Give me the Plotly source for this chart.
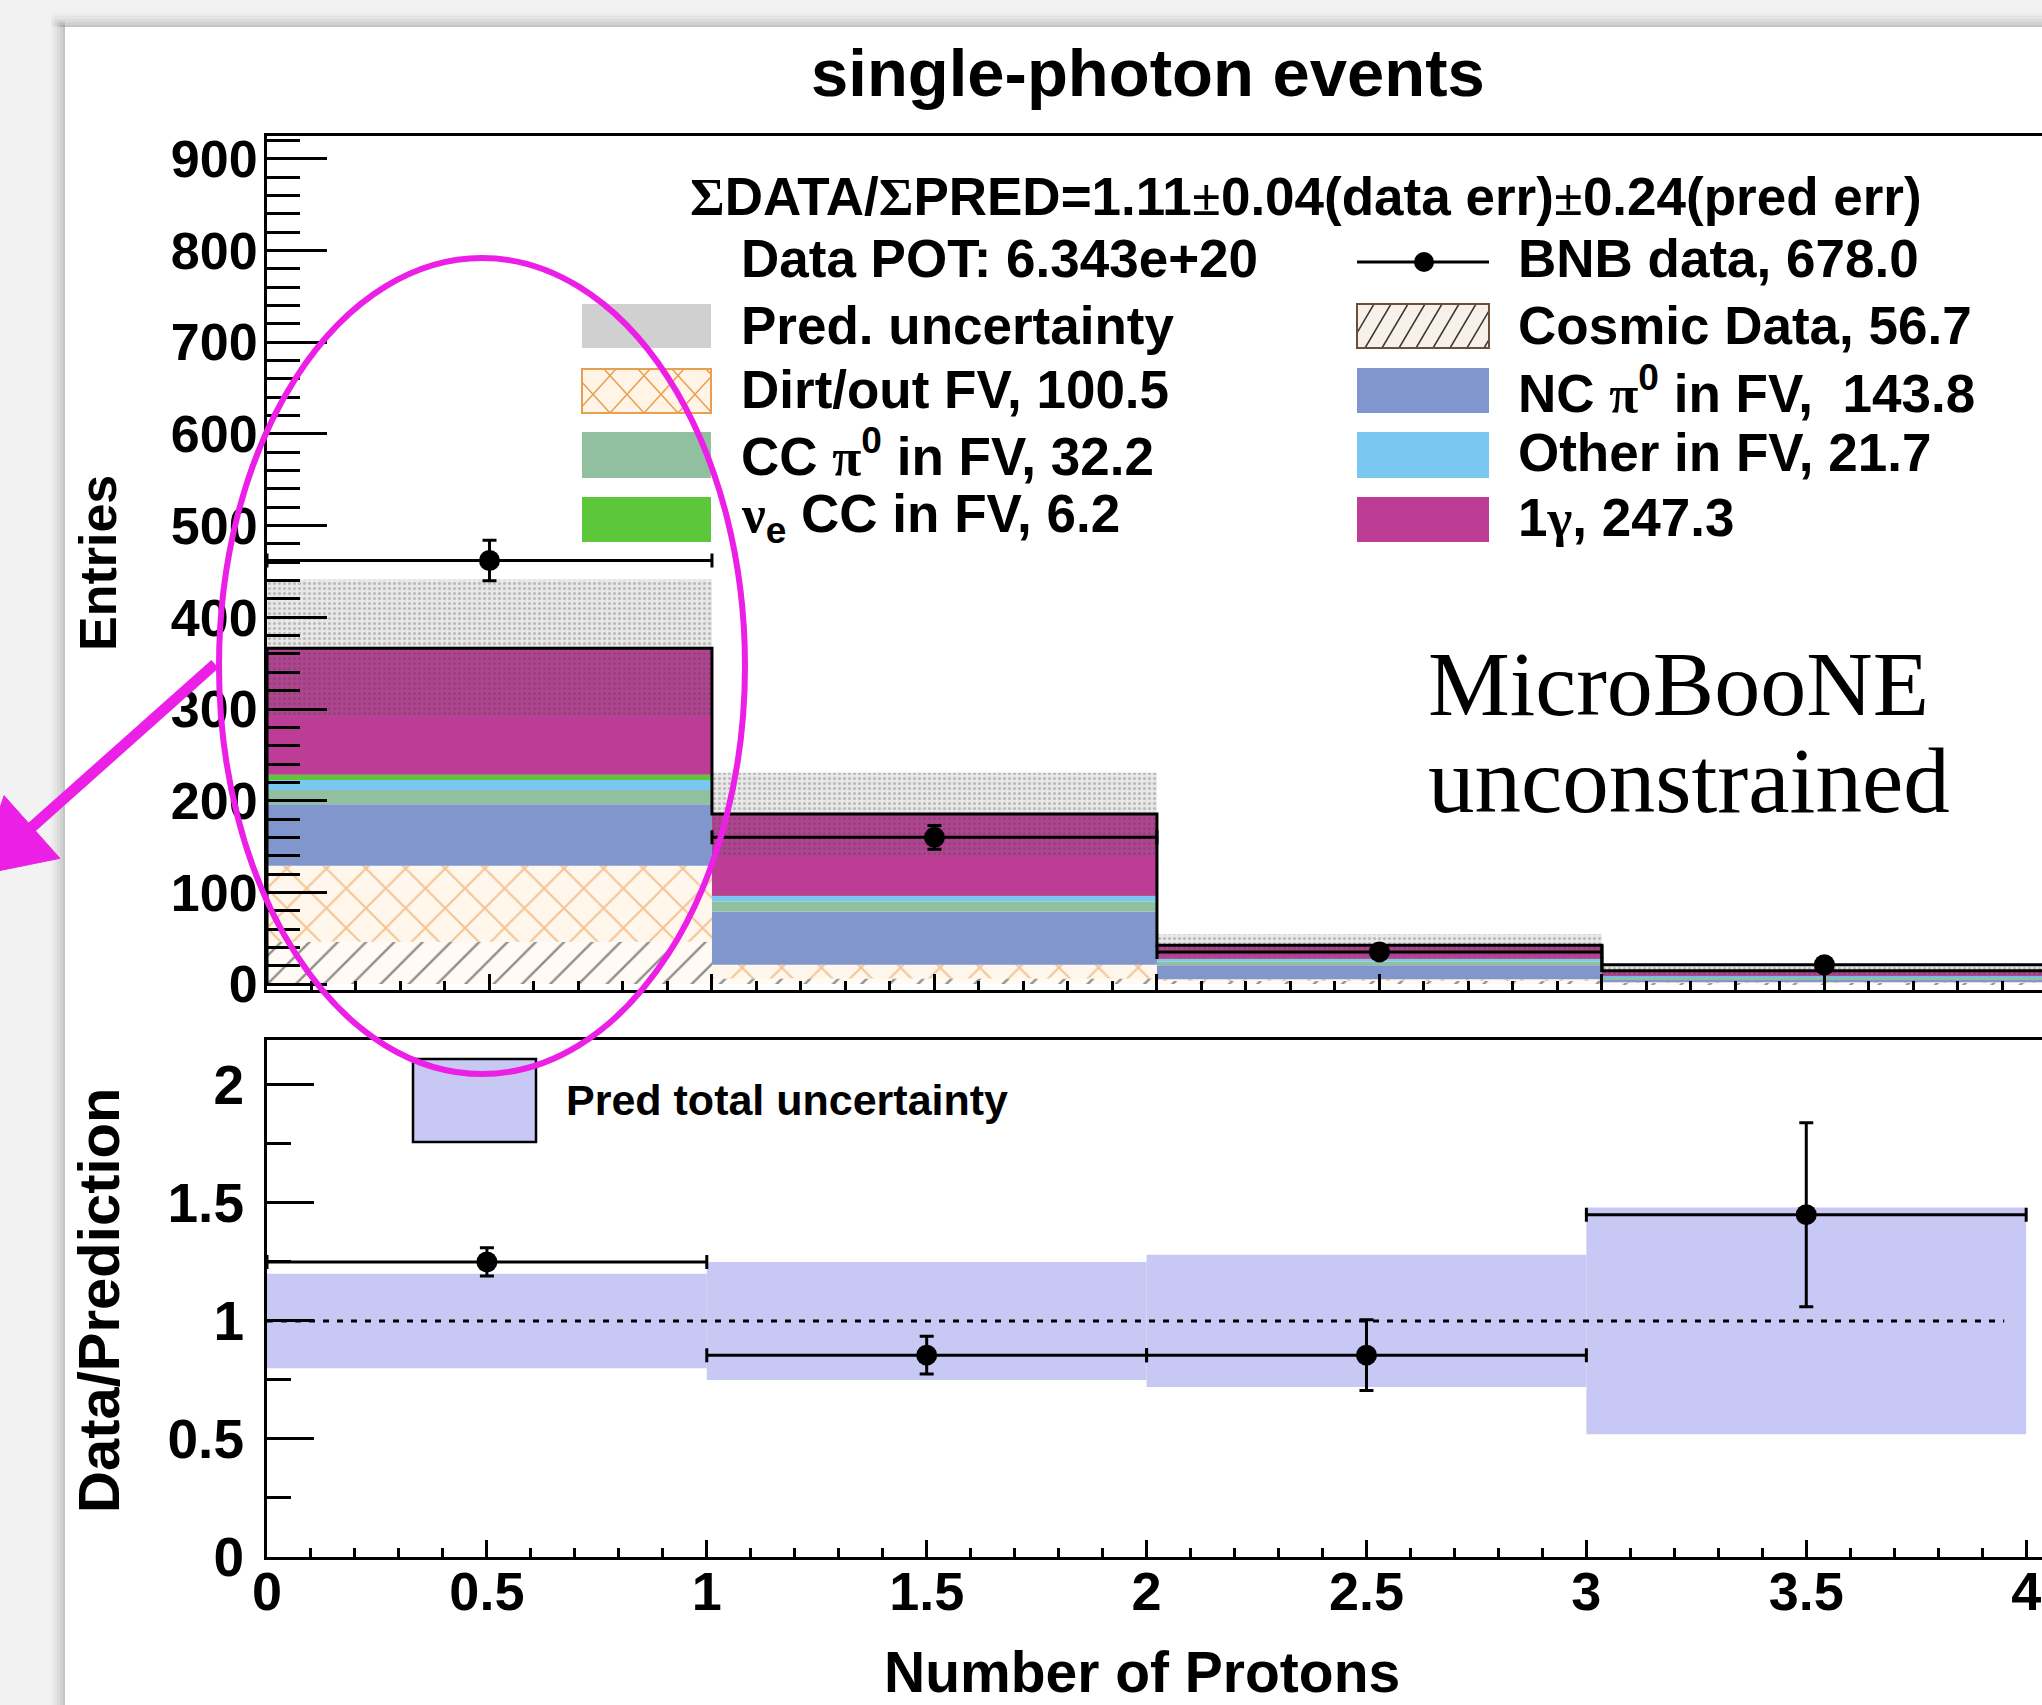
import numpy as np
import plotly.graph_objects as go

W, H = 2042, 1705

# ---------------- data ----------------
bin_lo = [0, 1, 2, 3]
bin_hi = [1, 2, 3, 4]

# stacked prediction components, bottom -> top
cosmic = [46.0, 6.0, 3.5, 1.2]
dirt = [83.0, 15.0, 1.8, 0.7]
nc_pi0 = [67.0, 58.0, 15.3, 3.5]
cc_pi0 = [15.6, 10.9, 4.0, 1.7]
other_fv = [10.9, 6.2, 3.0, 1.6]
nue_cc = [5.8, 0.3, 0.1, 0.0]
one_gamma = [138.0, 89.0, 14.5, 5.8]
pred_err = [75.0, 45.0, 12.0, 7.0]

bnb_data = [462, 160, 35, 21]
bnb_err = [22.0, 13.0, 6.0, 4.6]

ratio = [1.25, 0.855, 0.855, 1.45]
ratio_err = [0.06, 0.08, 0.15, 0.39]
ratio_band = [0.20, 0.25, 0.28, 0.48]

SERIF = "<span style=\"font-family:Liberation Serif\">{}</span>"
legend_left = ["Data POT: 6.343e+20", "Pred. uncertainty", "Dirt/out FV, 100.5",
               "CC " + SERIF.format("π") + "<sup>0</sup> in FV, 32.2",
               SERIF.format("ν") + "<sub>e</sub> CC in FV, 6.2"]
legend_right = ["BNB data, 678.0", "Cosmic Data, 56.7",
                "NC " + SERIF.format("π") + "<sup>0</sup> in FV,  143.8",
                "Other in FV, 21.7",
                "1" + SERIF.format("γ") + ", 247.3"]

# ---------------- helpers ----------------
def px(x):
    return x / W

def py(y):
    return 1 - y / H

lo = np.array(bin_lo, float)
hi = np.array(bin_hi, float)
centers = (lo + hi) / 2
halfw = (hi - lo) / 2

FONT = "Liberation Sans"
C_COS_BG = "#fffaf3"
C_DIRT = "#e8a050"
C_NC = "#8196cc"
C_CC = "#90c0a0"
C_OTH = "#7ac8f2"
C_NUE = "#5cc73a"
C_1G = "#bc3c96"
C_BAND = "#c8c8f4"
C_MAG = "#ec1fe6"

fig = go.Figure()

# ---------------- top panel: stack ----------------
components = [
    (cosmic, dict(color=C_COS_BG, pattern=dict(shape="/", fgcolor="#222222", bgcolor=C_COS_BG, size=20, solidity=0.12))),
    (dirt, dict(color="#fff6ec", pattern=dict(shape="x", fgcolor="#e8923a", bgcolor="#fff6ec", size=28, solidity=0.14))),
    (nc_pi0, dict(color=C_NC)),
    (cc_pi0, dict(color=C_CC)),
    (other_fv, dict(color=C_OTH)),
    (nue_cc, dict(color=C_NUE)),
    (one_gamma, dict(color=C_1G)),
]
base = np.zeros(len(lo))
for vals, mk in components:
    v = np.array(vals, float)
    mk = dict(mk)
    mk["line"] = dict(width=0)
    fig.add_trace(go.Bar(x=centers, y=v, base=base.copy(), width=hi - lo, marker=mk,
                         xaxis="x", yaxis="y", hoverinfo="skip"))
    base = base + v
total = base

# prediction uncertainty band (dotted, semi transparent)
perr = np.array(pred_err, float)
fig.add_trace(go.Bar(x=centers, y=2 * perr, base=total - perr, width=hi - lo,
                     marker=dict(color="rgba(110,110,110,0.16)", line=dict(width=0),
                                 pattern=dict(shape=".", fgcolor="rgba(60,60,60,0.55)", size=5,
                                              solidity=0.3, fillmode="overlay")),
                     xaxis="x", yaxis="y", hoverinfo="skip"))

# outline of the stack
sx, sy = [lo[0]], [0.0]
for i in range(len(lo)):
    sx += [lo[i], hi[i]]
    sy += [total[i], total[i]]
sx.append(hi[-1]); sy.append(0.0)
fig.add_trace(go.Scatter(x=sx, y=sy, mode="lines", line=dict(color="black", width=3),
                         xaxis="x", yaxis="y", hoverinfo="skip"))

# data points
fig.add_trace(go.Scatter(x=centers, y=bnb_data, mode="markers",
                         marker=dict(color="black", size=21),
                         error_x=dict(type="data", array=halfw, color="black", thickness=3, width=7),
                         error_y=dict(type="data", array=bnb_err, color="black", thickness=3, width=7),
                         xaxis="x", yaxis="y", hoverinfo="skip"))

# ---------------- bottom panel ----------------
rb = np.array(ratio_band, float)
fig.add_trace(go.Bar(x=centers, y=2 * rb, base=1 - rb, width=hi - lo,
                     marker=dict(color=C_BAND, line=dict(width=0)),
                     xaxis="x2", yaxis="y2", hoverinfo="skip"))
fig.add_trace(go.Scatter(x=centers, y=ratio, mode="markers",
                         marker=dict(color="black", size=21),
                         error_x=dict(type="data", array=halfw, color="black", thickness=3, width=7),
                         error_y=dict(type="data", array=ratio_err, color="black", thickness=3, width=7),
                         xaxis="x2", yaxis="y2", hoverinfo="skip"))

# ---------------- axes ----------------
tick_font = dict(family=FONT, size=52, color="black", weight="bold")
x0_dom = px(267)
fig.update_layout(
    width=W, height=H, margin=dict(l=0, r=0, t=0, b=0, pad=0), autosize=False,
    paper_bgcolor="#f2f2f2", plot_bgcolor="white", showlegend=False, barmode="overlay",
    xaxis=dict(domain=[x0_dom, 1], range=[0, 3.989], anchor="y", showline=True, linewidth=3,
               linecolor="black", mirror=True, ticks="inside", ticklen=16, tickwidth=3,
               tickcolor="black", dtick=0.5, tick0=0, showticklabels=False,
               minor=dict(dtick=0.1, ticklen=9, tickwidth=3, ticks="inside", tickcolor="black"),
               showgrid=False, zeroline=False, automargin=False),
    yaxis=dict(domain=[py(990), py(136)], range=[-6.5, 925], anchor="x", showline=True,
               linewidth=3, linecolor="black", mirror=False, ticks="inside", ticklen=60,
               tickwidth=3, tickcolor="black", dtick=100, tick0=0,
               minor=dict(dtick=20, ticklen=33, tickwidth=3, ticks="inside", tickcolor="black"),
               showgrid=False, zeroline=False, tickfont=tick_font, ticklabelstandoff=-4,
               automargin=False),
    xaxis2=dict(domain=[x0_dom, 1], range=[0, 4.036], anchor="y2", showline=True, linewidth=3,
                linecolor="black", mirror=True, ticks="inside", ticklen=17, tickwidth=3,
                tickcolor="black", dtick=0.5, tick0=0,
                minor=dict(dtick=0.1, ticklen=9, tickwidth=3, ticks="inside", tickcolor="black"),
                showgrid=False, zeroline=False,
                tickfont=dict(family=FONT, size=54, color="black", weight="bold"),
                ticklabelstandoff=-15, automargin=False),
    yaxis2=dict(domain=[py(1557), py(1040)], range=[0, 2.19], anchor="x2", showline=True,
                linewidth=3, linecolor="black", mirror=False, ticks="inside", ticklen=47,
                tickwidth=3, tickcolor="black", dtick=0.5, tick0=0,
                minor=dict(dtick=0.25, ticklen=24, tickwidth=3, ticks="inside", tickcolor="black"),
                showgrid=False, zeroline=False,
                tickfont=dict(family=FONT, size=55, color="black", weight="bold"),
                ticklabelstandoff=9, automargin=False),
)

shapes = []
# page card + shadow
for i, a in enumerate([0.025, 0.03, 0.035, 0.045, 0.06]):
    d = 14 - 3 * i
    shapes.append(dict(type="rect", xref="paper", yref="paper", layer="below",
                       x0=px(65 - d), x1=px(65), y0=py(H), y1=py(27 - d * 0.5),
                       fillcolor=f"rgba(0,0,0,{a})", line=dict(width=0)))
    shapes.append(dict(type="rect", xref="paper", yref="paper", layer="below",
                       x0=px(65 - d), x1=1, y0=py(27), y1=py(27 - d),
                       fillcolor=f"rgba(0,0,0,{a})", line=dict(width=0)))
shapes.append(dict(type="rect", xref="paper", yref="paper", layer="below",
                   x0=px(65), x1=1, y0=0, y1=py(27), fillcolor="white", line=dict(width=0)))

# dotted line at ratio 1
shapes.append(dict(type="line", xref="x2", yref="y2", x0=0, x1=3.95, y0=1, y1=1,
                   line=dict(color="black", width=3, dash="6px,8px")))


def rect(x0, y0, x1, y1, fill, lc=None, lw=0):
    return dict(type="rect", xref="paper", yref="paper", layer="above",
                x0=px(x0), x1=px(x1), y0=py(y1), y1=py(y0), fillcolor=fill,
                line=dict(color=lc or fill, width=lw))


def hatch(x0, y0, x1, y1, dx, step, color, width):
    path = ""
    h = y1 - y0
    xs = x0 - abs(dx) - step
    while xs < x1 + abs(dx) + step:
        t_a = (x0 - xs) / dx
        t_b = (x1 - xs) / dx
        tmin = max(0.0, min(t_a, t_b))
        tmax = min(1.0, max(t_a, t_b))
        if tmin < tmax:
            ax_, ay_ = xs + dx * tmin, y1 - h * tmin
            bx_, by_ = xs + dx * tmax, y1 - h * tmax
            path += f"M{px(ax_)},{py(ay_)} L{px(bx_)},{py(by_)} "
        xs += step
    return dict(type="path", xref="paper", yref="paper", layer="above", path=path,
                line=dict(color=color, width=width))


# left legend column swatches
shapes.append(rect(582, 304, 711, 348, "#d0d0d0"))
shapes.append(rect(582, 369, 711, 413, "#fff4e6"))
shapes.append(hatch(582, 369, 711, 413, 40, 34, C_DIRT, 1.5))
shapes.append(hatch(582, 369, 711, 413, -40, 34, C_DIRT, 1.5))
shapes.append(rect(582, 369, 711, 413, "rgba(0,0,0,0)", C_DIRT, 2))
shapes.append(rect(582, 432, 711, 478, C_CC))
shapes.append(rect(582, 497, 711, 542, C_NUE))
# right legend column swatches
shapes.append(dict(type="line", xref="paper", yref="paper", layer="above",
                   x0=px(1357), x1=px(1489), y0=py(262), y1=py(262),
                   line=dict(color="black", width=3)))
shapes.append(dict(type="circle", xref="paper", yref="paper", layer="above",
                   x0=px(1414), x1=px(1434), y0=py(272), y1=py(252),
                   fillcolor="black", line=dict(color="black", width=0)))
shapes.append(rect(1357, 304, 1489, 348, "#f8f1ea"))
shapes.append(hatch(1357, 304, 1489, 348, 26, 17, "#3a3a3a", 1.5))
shapes.append(rect(1357, 304, 1489, 348, "rgba(0,0,0,0)", "#6b4f3a", 2))
shapes.append(rect(1357, 368, 1489, 413, C_NC))
shapes.append(rect(1357, 432, 1489, 478, C_OTH))
shapes.append(rect(1357, 497, 1489, 542, C_1G))
# ratio legend box
shapes.append(rect(413, 1059, 536, 1142, C_BAND, "black", 2.5))
# magenta ellipse
shapes.append(dict(type="circle", xref="paper", yref="paper", layer="above",
                   x0=px(219), x1=px(745), y0=py(1074), y1=py(258),
                   line=dict(color=C_MAG, width=6)))

# magenta arrow (shaft + head, head tip running off the left edge)
tail = np.array([215.0, 664.0])
bctr = np.array([32.0, 827.0])
u = (bctr - tail) / np.linalg.norm(bctr - tail)
nrm = np.array([-u[1], u[0]])
c1 = bctr + 42 * nrm
c2 = bctr - 42 * nrm
tip = bctr + 72 * u
shaft_end = bctr + 10 * u
shapes.append(dict(type="line", xref="paper", yref="paper", layer="above",
                   x0=px(tail[0]), y0=py(tail[1]), x1=px(shaft_end[0]), y1=py(shaft_end[1]),
                   line=dict(color=C_MAG, width=11)))
shapes.append(dict(type="path", xref="paper", yref="paper", layer="above",
                   path=f"M{px(c1[0])},{py(c1[1])} L{px(tip[0])},{py(tip[1])} "
                        f"L{px(c2[0])},{py(c2[1])} Z",
                   fillcolor=C_MAG, line=dict(color=C_MAG, width=1)))

fig.update_layout(shapes=shapes)

ann = []


def text(x, y, t, size, anchor="left", family=FONT, bold=True, angle=0):
    ann.append(dict(x=px(x), y=py(y), xref="paper", yref="paper", text=t, showarrow=False,
                    xanchor=anchor, yanchor="middle", textangle=angle,
                    font=dict(family=family, size=size, color="black",
                              weight="bold" if bold else "normal")))


text(1148, 72, "single-photon events", 67, anchor="center")
text(688, 196, SERIF.format("Σ") + "DATA/" + SERIF.format("Σ") + "PRED=1.11"
               + SERIF.format("±") + "0.04(data err)" + SERIF.format("±") + "0.24(pred err)", 53)
rows_y = [259, 325, 389, 453, 517]
for t, yy in zip(legend_left, rows_y):
    text(739, yy, t, 53)
for t, yy in zip(legend_right, rows_y):
    text(1516, yy, t, 53)
text(1426, 684, "MicroBooNE", 92, family="Liberation Serif", bold=False)
text(1426, 781, "unconstrained", 93, family="Liberation Serif", bold=False)
text(564, 1100, "Pred total uncertainty", 43)
text(98, 563, "Entries", 52, anchor="center", angle=-90)
text(98, 1301, "Data/Prediction", 58, anchor="center", angle=-90)
text(1142, 1672, "Number of Protons", 57, anchor="center")

fig.update_layout(annotations=ann)

fig.write_html("out.html", config={"displayModeBar": False},
               post_script="document.body.style.margin='0';document.body.style.overflow='hidden';"
                           "document.documentElement.style.overflow='hidden';")
